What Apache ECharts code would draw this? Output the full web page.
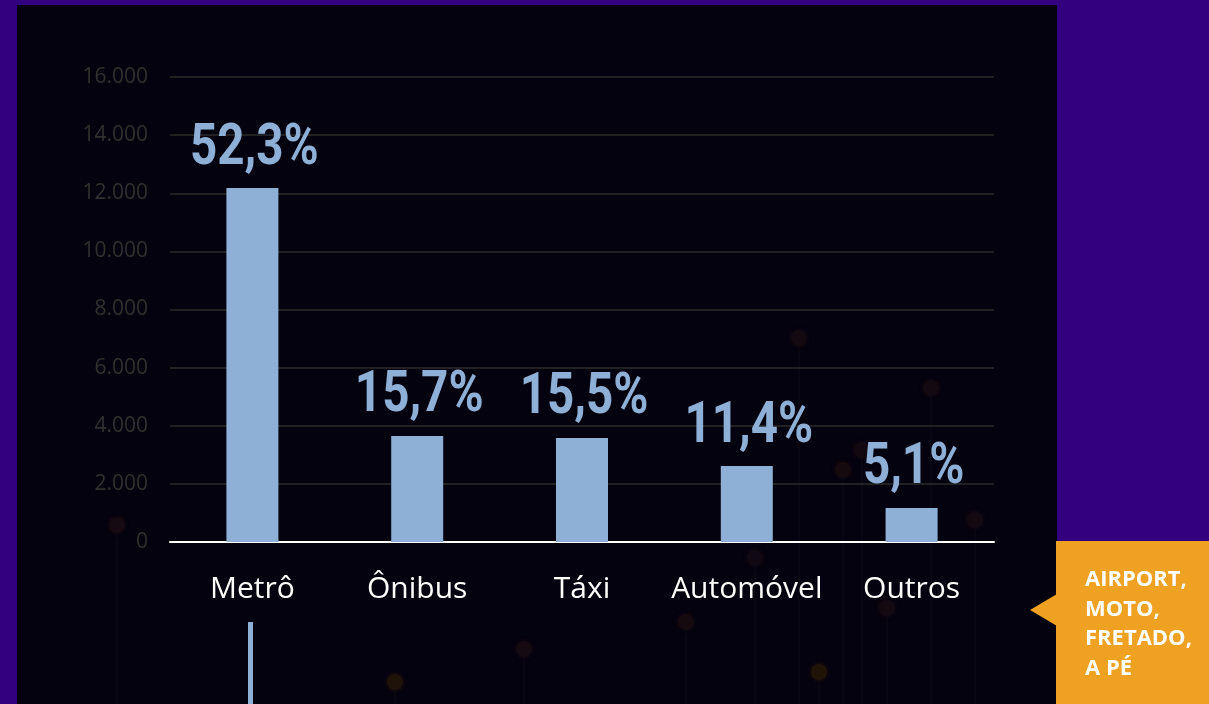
<!DOCTYPE html>
<html><head><meta charset="utf-8">
<script src="https://cdn.jsdelivr.net/npm/echarts@6/dist/echarts.min.js"></script>
<style>html,body{margin:0;padding:0;background:#330080;}#c{width:1209px;height:704px;}</style>
</head><body><div id="c"></div>
<script>
const categories = ['Metrô', 'Ônibus', 'Táxi', 'Automóvel', 'Outros'];
const values = [12180, 3650, 3580, 2615, 1170];
const shares = ['52,3%', '15,7%', '15,5%', '11,4%', '5,1%'];
const yTicks = [0, 2000, 4000, 6000, 8000, 10000, 12000, 14000, 16000];
const calloutLines = ['AIRPORT,', 'MOTO,', 'FRETADO,', 'A PÉ'];

const dots = [[117,525],[799,338],[931,388],[843,470],[862,450],[975,520],[755,558],[686,622],[524,649],[395,682],[819,672],[887,608]];
const dotColors = ['#150a11','#130910','#130910','#150a0e','#120910','#130910','#100812','#150a0e','#150a11','#1f1209','#201409','#130910'];
const deco = [];
dots.forEach((d, i) => {
  deco.push({type:'line', z:-5, silent:true, shape:{x1:d[0],y1:d[1],x2:d[0],y2:704}, style:{stroke:'#090612', lineWidth:2}});
  deco.push({type:'circle', z:-5, silent:true, shape:{cx:d[0],cy:d[1],r:8}, style:{fill:dotColors[i], shadowBlur:4, shadowColor:dotColors[i]}});
});

const chart = echarts.init(document.getElementById('c'));
const baseGraphics = [
  {type:'rect', z:-10, silent:true, shape:{x:17,y:5,width:1040,height:699}, style:{fill:'#05020f'}},
  ...deco,
  {type:'rect', z:-4, shape:{x:248,y:622,width:5,height:82}, style:{fill:'#8eb0d6'}},
  {type:'rect', z:10, shape:{x:1056,y:541,width:153,height:163}, style:{fill:'#efa122'}},
  {type:'polygon', z:10, shape:{points:[[1057,594],[1030,610],[1057,626]]}, style:{fill:'#efa122'}},
  {type:'text', z:11, left:1085, top:565, style:{text: calloutLines.join('\n'), fill:'#ffffff', font:"bold 22px 'Open Sans', sans-serif", lineHeight:29.5}}
];
chart.setOption({
  backgroundColor: '#330080',
  animation: false,
  grid: {left:170, right:215, top:77, bottom:162},
  xAxis: {
    type:'category', data: categories,
    axisLine:{show:true, lineStyle:{color:'#ffffff', width:2}},
    axisTick:{show:false},
    axisLabel:{interval:0, color:'#ffffff', fontSize:30, fontFamily:"'Open Sans', sans-serif", margin:32}
  },
  yAxis: {
    type:'value', min:0, max:16000, interval:2000,
    axisLine:{show:false}, axisTick:{show:false},
    splitLine:{lineStyle:{color:'#2b2b2b', width:1.5}},
    axisLabel:{color:'#303030', fontSize:21, fontFamily:"'Open Sans', sans-serif", margin:22,
      formatter: v => yTicks.includes(v) ? v.toLocaleString('de-DE') : ''}
  },
  series: [{
    type:'bar', data: values, barWidth:52, z:3,
    itemStyle:{color:'#8eb0d6'}
  }],
  graphic: baseGraphics
});
const labels = values.map((v, i) => {
  const p = chart.convertToPixel({seriesIndex:0}, [i, v]);
  return {type:'text', z:12, x:p[0] + 2, y:p[1] - 39, scaleX:0.82, scaleY:1, originX:0, originY:0,
    style:{text: shares[i], fill:'#8eb0d6', font:"bold 58px Roboto, sans-serif", align:'center', verticalAlign:'middle'}};
});
chart.setOption({graphic: baseGraphics.concat(labels)}, {replaceMerge:['graphic']});
</script></body></html>
